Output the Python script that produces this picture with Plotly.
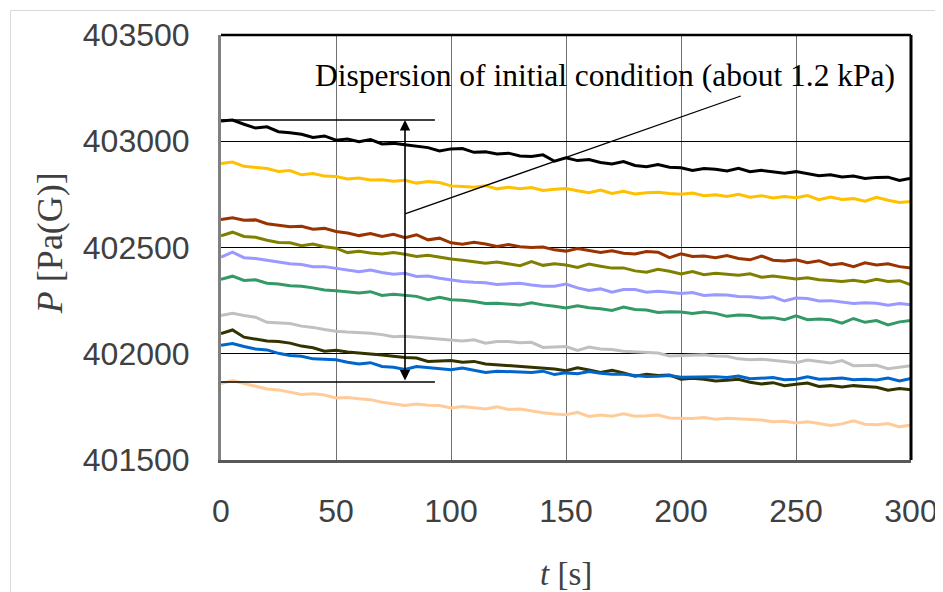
import plotly.graph_objects as go

t = list(range(0, 301, 5))

p_black = [403095, 403100, 403080, 403062, 403068, 403045, 403040, 403033, 403018, 403025,
           403005, 403010, 402998, 403008, 402987, 402990, 402983, 402978, 402970, 402954,
           402964, 402966, 402948, 402950, 402940, 402944, 402931, 402928, 402936, 402906,
           402922, 402909, 402914, 402900, 402893, 402904, 402886, 402880, 402890, 402878,
           402875, 402862, 402872, 402868, 402860, 402873, 402857, 402863, 402855, 402850,
           402857, 402846, 402838, 402842, 402832, 402836, 402825, 402830, 402831, 402815,
           402826]
p_gold = [402895, 402902, 402882, 402876, 402872, 402858, 402862, 402842, 402848, 402836,
          402834, 402822, 402827, 402818, 402819, 402812, 402816, 402803, 402810, 402806,
          402790, 402787, 402784, 402791, 402776, 402784, 402777, 402782, 402768, 402774,
          402778, 402767, 402758, 402770, 402754, 402765, 402752, 402758, 402760, 402754,
          402751, 402756, 402744, 402748, 402740, 402750, 402737, 402744, 402733, 402740,
          402734, 402744, 402725, 402738, 402726, 402730, 402718, 402736, 402722, 402712,
          402716]
p_brown = [402632, 402640, 402628, 402630, 402612, 402605, 402598, 402600, 402586, 402590,
           402575, 402568, 402556, 402566, 402552, 402562, 402546, 402560, 402536, 402544,
           402522, 402515, 402525, 402516, 402505, 402514, 402504, 402500, 402502, 402489,
           402483, 402495, 402484, 402476, 402485, 402473, 402470, 402481, 402478, 402452,
           402470, 402458, 402460, 402452, 402462, 402448, 402442, 402460, 402440, 402436,
           402442, 402428, 402438, 402418, 402425, 402410, 402428, 402418, 402423, 402410,
           402403]
p_olive = [402555, 402572, 402552, 402548, 402534, 402524, 402522, 402508, 402516, 402504,
           402497, 402476, 402482, 402474, 402470, 402476, 402468, 402458, 402464, 402454,
           402446, 402440, 402434, 402426, 402432, 402424, 402414, 402434, 402416, 402424,
           402418, 402406, 402422, 402412, 402403, 402404, 402390, 402384, 402398, 402388,
           402376, 402387, 402372, 402379, 402376, 402370, 402376, 402360, 402366, 402360,
           402352, 402358, 402348, 402345, 402340, 402346, 402338, 402350, 402340, 402344,
           402324]
p_lavender = [402455, 402478, 402452, 402448, 402440, 402432, 402424, 402420, 402410, 402410,
              402402, 402392, 402386, 402394, 402382, 402374, 402379, 402364, 402366, 402355,
              402346, 402340, 402336, 402334, 402326, 402330, 402332, 402324, 402318, 402318,
              402328, 402310, 402298, 402306, 402290, 402302, 402302, 402290, 402294, 402289,
              402284, 402288, 402274, 402278, 402276, 402270, 402268, 402262, 402268, 402248,
              402262, 402260, 402248, 402250, 402244, 402236, 402240, 402238, 402228, 402236,
              402230]
p_green = [402350, 402365, 402345, 402348, 402332, 402328, 402320, 402318, 402310, 402300,
           402296, 402290, 402286, 402292, 402274, 402280, 402276, 402270, 402254, 402266,
           402254, 402252, 402246, 402236, 402238, 402235, 402230, 402240, 402230, 402224,
           402215, 402226, 402216, 402212, 402204, 402220, 402208, 402206, 402194, 402198,
           402196, 402190, 402197, 402190, 402176, 402182, 402180, 402168, 402170, 402160,
           402178, 402160, 402164, 402160, 402144, 402166, 402148, 402156, 402136, 402150,
           402157]
p_gray = [402180, 402190, 402180, 402172, 402148, 402144, 402142, 402130, 402124, 402114,
          402106, 402102, 402100, 402097, 402090, 402080, 402082, 402078, 402074, 402070,
          402066, 402060, 402066, 402050, 402058, 402058, 402052, 402054, 402030, 402032,
          402034, 402016, 402032, 402022, 402020, 402012, 402010, 402008, 402003, 401990,
          401992, 401994, 401995, 401990, 401988, 401976, 401972, 401974, 401970, 401964,
          401958, 401970, 401964, 401956, 401968, 401944, 401945, 401946, 401930, 401938,
          401944]
p_darkolive = [402095, 402112, 402078, 402070, 402060, 402058, 402050, 402036, 402028, 402012,
               402016, 402008, 402004, 402000, 401994, 401988, 401982, 401980, 401964, 401966,
               401968, 401960, 401964, 401952, 401948, 401946, 401940, 401936, 401932, 401928,
               401920, 401934, 401924, 401912, 401922, 401910, 401894, 401904, 401898, 401900,
               401880, 401885, 401880, 401872, 401875, 401880, 401866, 401858, 401864, 401850,
               401856, 401862, 401846, 401850, 401844, 401850, 401846, 401842, 401828, 401836,
               401831]
p_blue = [402040, 402048, 402034, 402022, 402018, 402002, 401992, 401988, 401976, 401975,
          401972, 401960, 401952, 401958, 401940, 401936, 401926, 401940, 401936, 401930,
          401925, 401933, 401924, 401912, 401918, 401916, 401914, 401912, 401918, 401902,
          401910, 401906, 401916, 401908, 401904, 401904, 401898, 401893, 401894, 401898,
          401890, 401890, 401893, 401892, 401888, 401895, 401882, 401884, 401888, 401878,
          401880, 401892, 401880, 401882, 401886, 401878, 401880, 401876, 401886, 401872,
          401884]
p_peach = [401860, 401874, 401860, 401846, 401834, 401830, 401818, 401808, 401812, 401806,
           401792, 401794, 401788, 401784, 401772, 401764, 401756, 401764, 401758, 401756,
           401745, 401752, 401746, 401740, 401750, 401738, 401740, 401730, 401722, 401716,
           401713, 401724, 401705, 401712, 401706, 401718, 401706, 401708, 401712, 401698,
           401698, 401695, 401700, 401692, 401696, 401694, 401690, 401688, 401680, 401682,
           401674, 401680, 401672, 401662, 401670, 401684, 401668, 401666, 401672, 401656,
           401665]

series = [p_black, p_gold, p_brown, p_olive, p_lavender, p_green, p_gray, p_darkolive, p_blue, p_peach]
colors = ["#000000", "#FFC000", "#993300", "#808000", "#9999FF", "#339966", "#C0C0C0",
          "#333300", "#0066CC", "#FFCC99"]

x_ticks = [0, 50, 100, 150, 200, 250, 300]
y_ticks = [401500, 402000, 402500, 403000, 403500]

annotation_text = "Dispersion of initial condition (about 1.2 kPa)"
disp_top = 403100
disp_bottom = 401867
disp_t = 80
bracket_t_end = 93
leader_start = (80, 402658)
leader_end = (226, 403213)
text_pos = (167, 403310)

fig = go.Figure()
for ys, c in zip(series, colors):
    fig.add_trace(go.Scatter(x=t, y=ys, mode="lines", line=dict(color=c, width=3),
                             showlegend=False, hoverinfo="skip"))

# page body has an 8px default margin, so the figure is sized/offset to compensate
fig.update_layout(
    width=935, height=584,
    margin=dict(l=213, r=32, t=27, b=132, autoexpand=False),
    paper_bgcolor="white", plot_bgcolor="white",
    font=dict(family="Liberation Sans, Arial", color="#404040"),
)
fig.update_xaxes(range=[0, 300], tickvals=x_ticks, ticktext=[str(v) for v in x_ticks],
                 showgrid=True, gridcolor="#707070", gridwidth=1, automargin=False,
                 showline=True, linecolor="#595959", linewidth=3,
                 ticks="", tickfont=dict(size=32, family="Liberation Sans, Arial", color="#404040"),
                 ticklabelstandoff=21, zeroline=False)
fig.update_yaxes(range=[401500, 403500], tickvals=y_ticks, ticktext=[str(v) for v in y_ticks],
                 showgrid=True, gridcolor="#000000", gridwidth=1, automargin=False,
                 showline=True, linecolor="#808080", linewidth=3,
                 ticks="", tickfont=dict(size=32, family="Liberation Sans, Arial", color="#404040"),
                 ticklabelstandoff=22, zeroline=False)

shapes = [
    # top and right frame
    dict(type="line", xref="paper", yref="paper", x0=0, x1=1, y0=1, y1=1,
         line=dict(color="black", width=2.5)),
    dict(type="line", xref="paper", yref="paper", x0=1, x1=1, y0=0, y1=1,
         line=dict(color="black", width=3)),
    # outer chart border
    dict(type="line", xref="paper", yref="paper", x0=-0.305, x1=-0.305, y0=-0.4, y1=1.0576,
         line=dict(color="#D9D9D9", width=1)),
    dict(type="line", xref="paper", yref="paper", x0=-0.305, x1=1.2, y0=1.0576, y1=1.0576,
         line=dict(color="#D9D9D9", width=1)),
    # dispersion bracket lines
    dict(type="line", xref="x", yref="y", x0=-1, x1=bracket_t_end, y0=disp_top, y1=disp_top,
         line=dict(color="black", width=1.3)),
    dict(type="line", xref="x", yref="y", x0=-1, x1=bracket_t_end, y0=disp_bottom, y1=disp_bottom,
         line=dict(color="black", width=1.3)),
    dict(type="line", xref="x", yref="y", x0=leader_start[0], x1=leader_end[0],
         y0=leader_start[1], y1=leader_end[1], line=dict(color="black", width=1.3)),
]
fig.update_layout(shapes=shapes)

fig.add_annotation(x=disp_t, y=disp_top, ax=disp_t, ay=disp_bottom, xref="x", yref="y",
                   axref="x", ayref="y", text="", showarrow=True, arrowhead=2,
                   startarrowhead=2, arrowside="end+start", arrowsize=1.3, startarrowsize=1.3,
                   arrowwidth=1.6, arrowcolor="black", standoff=0, startstandoff=0)
fig.add_annotation(x=text_pos[0], y=text_pos[1], xref="x", yref="y", text=annotation_text,
                   showarrow=False, font=dict(family="Liberation Serif, Times New Roman", size=31.5,
                                              color="black"))
fig.add_annotation(x=0.5, y=-0.268, xref="paper", yref="paper", xanchor="center", yanchor="middle",
                   text="<i>t</i> [s]", showarrow=False,
                   font=dict(family="Liberation Serif, Times New Roman", size=33, color="#404040"))
fig.add_annotation(x=-0.248, y=0.51, xref="paper", yref="paper", xanchor="center", yanchor="middle",
                   textangle=-90, text="<i>P</i> [Pa(G)]", showarrow=False,
                   font=dict(family="Liberation Serif, Times New Roman", size=36, color="#404040"))

fig.write_html("out.html")
